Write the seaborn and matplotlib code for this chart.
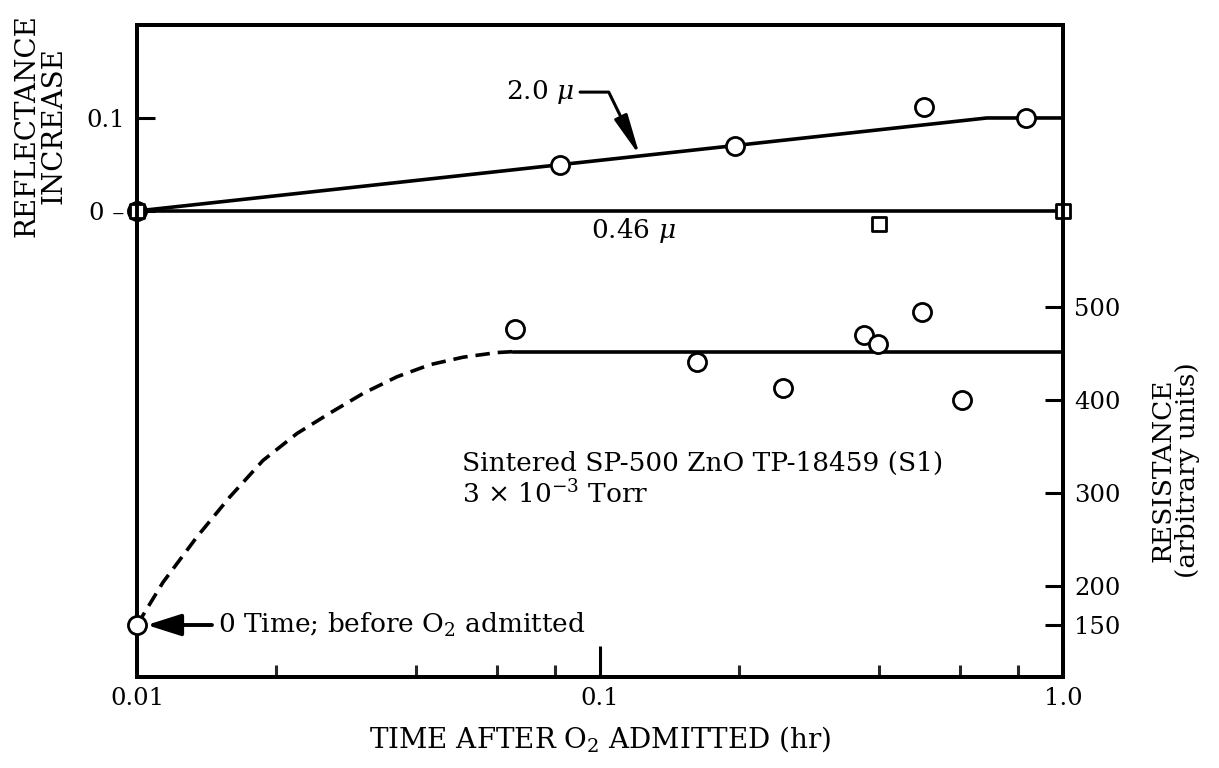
import numpy as np
import pandas as pd
import matplotlib
matplotlib.use("Agg")
import matplotlib.pyplot as plt
import seaborn as sns

# ---------------- data ----------------
# Reflectance increase, 2.0 micron
refl20_pts_t = [0.01, 0.082, 0.196, 0.50, 0.83]
refl20_pts_v = [0.0, 0.049, 0.070, 0.112, 0.100]
refl20_line_t = [0.01, 0.685, 1.0]
refl20_line_v = [0.0, 0.100, 0.100]
# Reflectance increase, 0.46 micron
refl046_pts_t = [0.01, 0.40, 1.0]
refl046_pts_v = [0.0, -0.014, 0.0]
refl046_line_t = [0.01, 1.0]
refl046_line_v = [0.0, 0.0]
# Resistance (arbitrary units)
res_pts_t = [0.01, 0.0655, 0.162, 0.248, 0.372, 0.399, 0.496, 0.605]
res_pts_v = [150, 476, 441, 413, 470, 460, 495, 400]
res_dash_t = [0.01, 0.01138, 0.01348, 0.01588, 0.01871, 0.02216, 0.02611,
              0.03077, 0.03644, 0.04296, 0.0506, 0.0599, 0.065]
res_dash_v = [150, 204, 253, 296, 335, 364, 386, 407, 425, 438, 446, 451, 452]
res_flat_t = [0.065, 1.0]
res_flat_v = [452, 452]

x_major = [0.01, 0.1, 1.0]
x_major_labels = ["0.01", "0.1", "1.0"]
x_minor = [0.02, 0.04, 0.06, 0.08, 0.2, 0.4, 0.6, 0.8]
left_ticks = [0.0, 0.1]
left_labels = ["0 \u2013", "0.1"]
right_ticks = [150, 200, 300, 400, 500]
right_labels = ["150", "200", "300", "400", "500"]

# ---------------- style ----------------
sns.set_theme(style="white")
plt.rcParams["font.family"] = ["DejaVu Serif"]
plt.rcParams["mathtext.fontset"] = "dejavuserif"
plt.rcParams["text.color"] = "black"
plt.rcParams["axes.labelcolor"] = "black"
FS = 17.5
FS_TXT = 19
FS_LAB = 20

fig = plt.figure(figsize=(12.19, 7.68), dpi=100)
ax = fig.add_axes([0.1124, 0.1185, 0.7596, 0.849])
ax.set_xscale("log")
ax.set_xlim(0.01, 1.0)
ax.set_ylim(-0.501, 0.2)

ax2 = ax.twinx()


def fwd(v):
    v = np.asarray(v, dtype=float)
    return np.where(v >= 200, v, 200 - (200 - v) * 0.838)


def inv(u):
    u = np.asarray(u, dtype=float)
    return np.where(u >= 200, u, 200 - (200 - u) / 0.838)


ax2.set_yscale("function", functions=(fwd, inv))
ax2.set_ylim(83.3, 803.2)

LW = 2.6
circ_kw = dict(marker="o", s=170, facecolor="white", edgecolor="black",
               linewidth=2.0, clip_on=False, zorder=5, legend=False)
sq_kw = dict(marker="s", s=105, facecolor="white", edgecolor="black",
             linewidth=2.0, clip_on=False, zorder=5, legend=False)

# reflectance lines + points
sns.lineplot(x=refl20_line_t, y=refl20_line_v, ax=ax, color="black", lw=LW,
             estimator=None, sort=False, zorder=3)
sns.lineplot(x=refl046_line_t, y=refl046_line_v, ax=ax, color="black", lw=LW,
             estimator=None, sort=False, zorder=3)
sns.scatterplot(x=refl20_pts_t, y=refl20_pts_v, ax=ax, **circ_kw)
sns.scatterplot(x=refl046_pts_t, y=refl046_pts_v, ax=ax, **sq_kw)

# resistance
sns.lineplot(x=res_dash_t, y=res_dash_v, ax=ax2, color="black", lw=LW,
             linestyle=(0, (4.0, 2.2)), estimator=None, sort=False, zorder=3)
sns.lineplot(x=res_flat_t, y=res_flat_v, ax=ax2, color="black", lw=LW,
             estimator=None, sort=False, zorder=3)
sns.scatterplot(x=res_pts_t, y=res_pts_v, ax=ax2, **circ_kw)

# ---------------- axes formatting ----------------
for a in (ax, ax2):
    for sp in a.spines.values():
        sp.set_linewidth(2.8)
        sp.set_color("black")

ax.set_xticks(x_major)
ax.set_xticklabels(x_major_labels)
ax.set_xticks(x_minor, minor=True)
ax.xaxis.set_minor_formatter(matplotlib.ticker.NullFormatter())
ax.tick_params(axis="x", which="major", direction="in", length=22, width=2.2,
               labelsize=FS, pad=7, bottom=True, top=False, colors="black")
ax.tick_params(axis="x", which="minor", direction="in", length=8.5, width=2.2,
               bottom=True, top=False)
ax.set_yticks(left_ticks)
ax.set_yticklabels(left_labels)
ax.yaxis.set_minor_locator(matplotlib.ticker.NullLocator())
ax.tick_params(axis="y", which="major", direction="in", length=13, width=2.2,
               labelsize=FS, pad=9, left=True, right=False, colors="black")

ax2.set_yticks(right_ticks)
ax2.set_yticklabels(right_labels)
ax2.yaxis.set_minor_locator(matplotlib.ticker.NullLocator())
ax2.tick_params(axis="y", which="major", direction="in", length=13, width=2.2,
                labelsize=FS, pad=8, right=True, left=False, colors="black")

ax.set_xlabel("TIME AFTER O$_{2}$ ADMITTED (hr)", fontsize=FS_LAB, labelpad=10,
              color="black")
ax.set_ylabel("REFLECTANCE\nINCREASE", fontsize=FS_LAB, color="black",
              multialignment="center", linespacing=1.0)
ax.yaxis.set_label_coords(-0.075, 0.845)
ax2.set_ylabel("RESISTANCE\n(arbitrary units)", fontsize=19, color="black",
               multialignment="center", linespacing=1.0)
ax2.yaxis.set_label_coords(1.094, 0.317)

# ---------------- annotations ----------------
ax.annotate("2.0 $\\mu$", xy=(0.122, 0.059), xytext=(-100, 64),
            textcoords="offset pixels", ha="center", va="center", fontsize=FS_TXT,
            arrowprops=dict(arrowstyle="-|>,head_length=1.3,head_width=0.22",
                            connectionstyle="angle,angleA=0,angleB=116,rad=0",
                            color="black", lw=2.2, shrinkA=2, shrinkB=0))
ax.text(0.1179, -0.0215, "0.46 $\\mu$", ha="center", va="center", fontsize=FS_TXT)
ax.text(0.0503, -0.289, "Sintered SP-500 ZnO TP-18459 (S1)\n3 \u00d7 10$^{-3}$ Torr",
        ha="left", va="center", fontsize=FS_TXT, linespacing=1.15)
ax2.annotate("0 Time; before O$_{2}$ admitted", xy=(0.01, 150), xytext=(81, 0),
             textcoords="offset pixels", ha="left", va="center", fontsize=FS_TXT,
             arrowprops=dict(arrowstyle="-|>,head_length=1.1,head_width=0.35",
                             color="black", lw=2.8, shrinkA=2, shrinkB=7))

fig.savefig("out.png", dpi=100)
